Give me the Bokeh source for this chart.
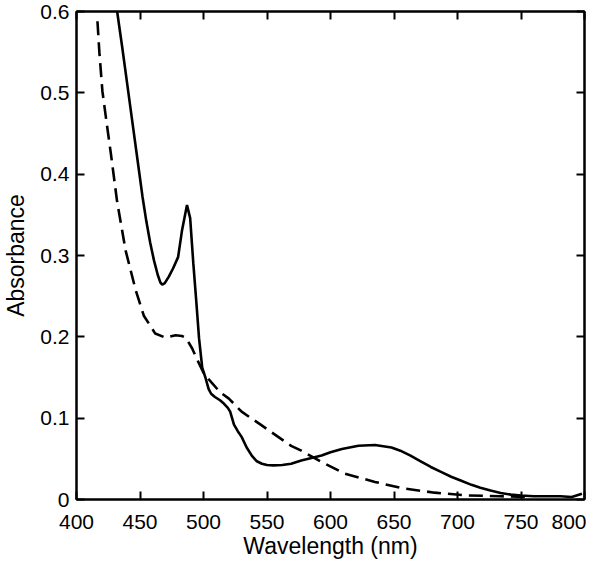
from bokeh.plotting import figure
from bokeh.models import Range1d, LinearAxis, FixedTicker, CustomJSTickFormatter
from bokeh.embed import file_html
from bokeh.resources import INLINE

# Solid curve (wavelength nm, absorbance)
solid_wl = [432, 436, 440, 444, 448, 452, 455, 458, 461, 464, 466, 467.5,
            469.5, 472.7, 476, 480, 483, 487, 489.5, 492, 494.5, 496.5, 499, 501.5, 504,
            506, 509, 513, 516, 519, 521, 524, 527, 530, 534, 538, 542, 546, 550, 555, 562, 569,
            577, 593, 600, 609, 622, 635, 648, 655,
            663, 671, 679, 687, 695, 703, 711, 718, 726, 734, 742, 750, 760, 781, 790, 798]
solid_abs = [0.600, 0.556, 0.510, 0.464, 0.418, 0.372, 0.342, 0.316, 0.294, 0.276, 0.267, 0.264,
             0.266, 0.274, 0.284, 0.298, 0.330, 0.362, 0.346, 0.290, 0.240, 0.198, 0.162, 0.150, 0.136,
             0.130, 0.126, 0.122, 0.118, 0.113, 0.108, 0.092, 0.084, 0.077, 0.064, 0.054, 0.047, 0.044, 0.0425, 0.042, 0.0425, 0.044,
             0.048, 0.054, 0.058, 0.062, 0.066, 0.067, 0.064, 0.060,
             0.054, 0.047, 0.040, 0.034, 0.028, 0.023, 0.018, 0.0145, 0.011, 0.008, 0.006, 0.005, 0.004, 0.004, 0.003, 0.007]

# Dashed curve
dashed_wl = [416.5, 418, 420.4, 424, 427, 432, 438.7, 446.5, 453, 462, 470, 478, 483, 486,
             491, 495, 500, 504, 513, 520, 530, 545, 569, 577, 593, 611, 635, 656, 682, 708, 734, 755]
dashed_abs = [0.588, 0.55, 0.502, 0.46, 0.426, 0.366, 0.306, 0.258, 0.226, 0.204, 0.199, 0.202, 0.201, 0.199,
              0.186, 0.172, 0.156, 0.148, 0.132, 0.124, 0.108, 0.092, 0.066, 0.060, 0.046, 0.032, 0.0216, 0.014,
              0.0084, 0.005, 0.004, 0.003]

x_ticks = [400, 450, 500, 550, 600, 650, 700, 750, 800]
y_ticks = [0, 0.1, 0.2, 0.3, 0.4, 0.5, 0.6]
y_tick_labels = {0: "0", 0.1: "0.1", 0.2: "0.2", 0.3: "0.3", 0.4: "0.4", 0.5: "0.5", 0.6: "0.6"}

FONT = "Liberation Sans"

p = figure(width=586, height=563, output_backend="svg", toolbar_location=None,
           x_range=Range1d(400, 800), y_range=Range1d(0, 0.6),
           min_border_left=66, min_border_right=2, min_border_top=11, min_border_bottom=64,
           x_axis_label="Wavelength (nm)", y_axis_label="Absorbance")

p.grid.visible = False
p.outline_line_color = "black"
p.outline_line_width = 2
p.background_fill_color = "white"
p.border_fill_color = "white"

p.line(solid_wl, solid_abs, line_color="black", line_width=2.6)
p.line(dashed_wl, dashed_abs, line_color="black", line_width=2.6, line_dash="14 7")

for ax in (p.xaxis[0], p.yaxis[0]):
    ax.major_tick_in = 8
    ax.major_tick_out = 0
    ax.minor_tick_line_color = None
    ax.axis_line_width = 2
    ax.major_tick_line_width = 2
    ax.axis_line_color = "black"
    ax.major_tick_line_color = "black"
    ax.major_label_text_font = FONT
    ax.major_label_text_font_size = "21px"
    ax.major_label_text_color = "black"
    ax.axis_label_text_font = FONT
    ax.axis_label_text_font_size = "23px"
    ax.axis_label_text_font_style = "normal"
    ax.axis_label_text_color = "black"

p.xaxis[0].ticker = FixedTicker(ticks=x_ticks)
p.yaxis[0].ticker = FixedTicker(ticks=y_ticks)
p.yaxis[0].major_label_overrides = y_tick_labels
p.xaxis[0].major_label_standoff = 15
p.xaxis[0].axis_label_standoff = 1
p.yaxis[0].major_label_standoff = 7
p.yaxis[0].axis_label_standoff = 8

top = LinearAxis(ticker=FixedTicker(ticks=x_ticks), formatter=CustomJSTickFormatter(code="return ''"))
right = LinearAxis(ticker=FixedTicker(ticks=y_ticks), formatter=CustomJSTickFormatter(code="return ''"))
for ax in (top, right):
    ax.major_tick_in = 8
    ax.major_tick_out = 0
    ax.minor_tick_line_color = None
    ax.axis_line_width = 2
    ax.major_tick_line_width = 2
    ax.major_label_standoff = 0
    ax.major_label_text_font_size = "1px"
p.add_layout(top, "above")
p.add_layout(right, "right")

open("out.html", "w").write(file_html(p, INLINE))
